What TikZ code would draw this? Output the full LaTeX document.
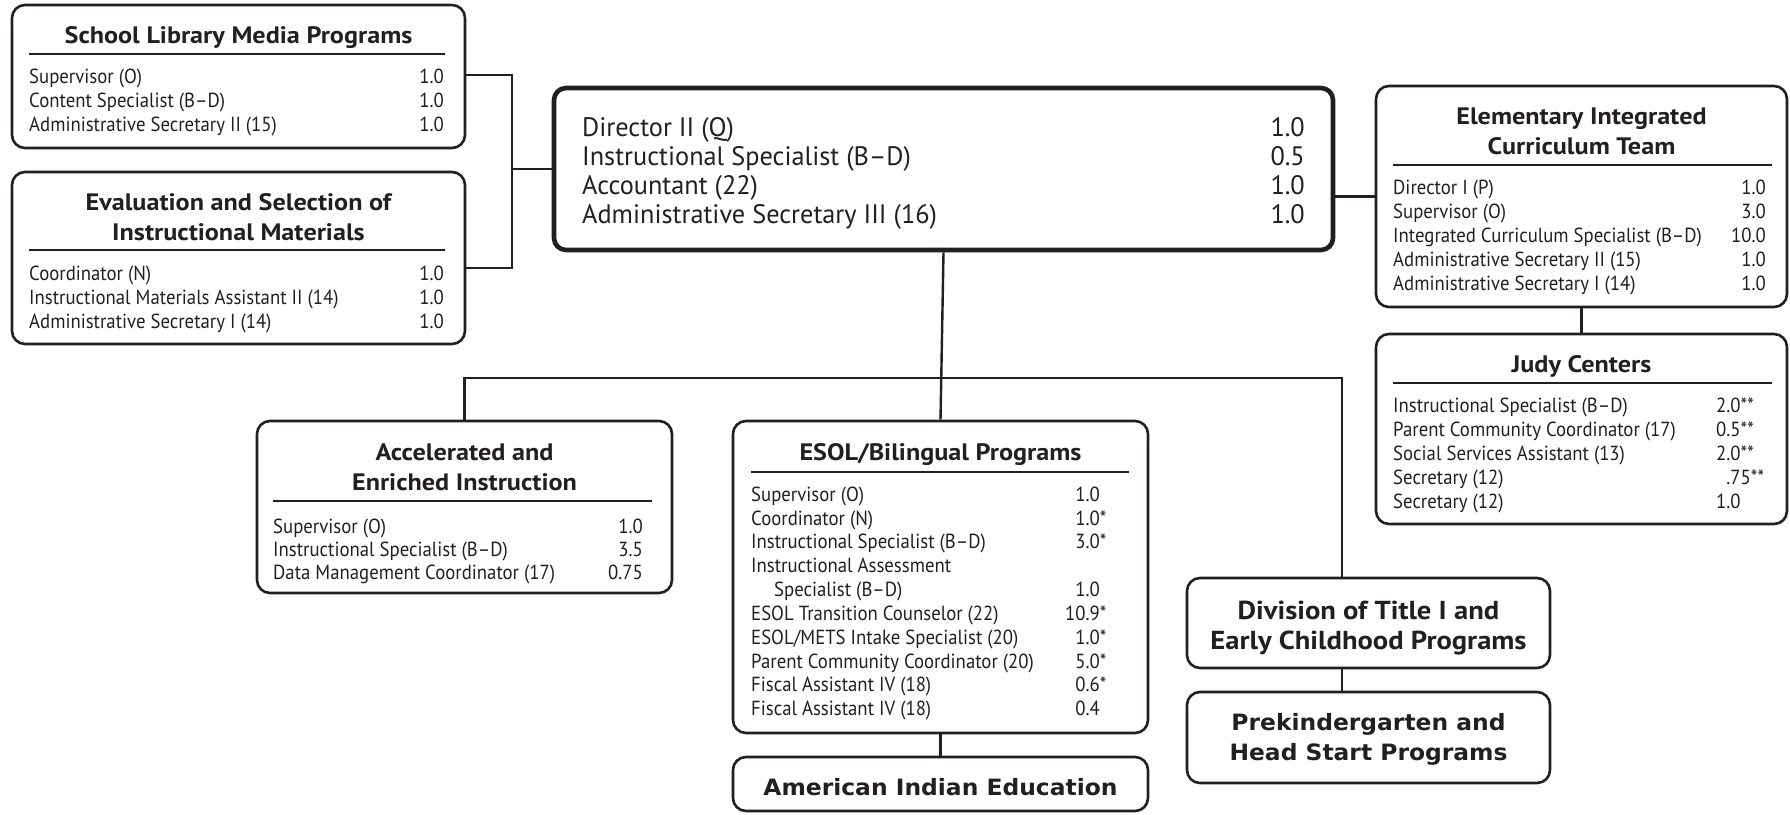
\documentclass[tikz,border=0pt]{standalone}
\usepackage{fontspec}
\setmainfont{PT Sans}
\newfontfamily\rowfont{PT Sans}[FakeStretch=0.92]
\newfontfamily\mainrowfont{PT Sans}[FakeStretch=0.985]
\newfontfamily\headfont{PT Sans}[FakeStretch=1.1]
\newfontfamily\blackfont{DejaVu Sans}[FakeStretch=1.04]
\definecolor{ink}{RGB}{35,31,32}

% one staff line: name, left x, right x, baseline y, title, FTE
\newcommand\entry[6]{%
  \node[row] (#1) at (#2,#4) {#5};
  \node[num] (#1n) at (#3,#4) {#6};}

\tikzset{
  unitbox/.style={draw=ink, line width=2.6pt, rounded corners=13pt, inner sep=0pt, fill=white},
  mainbox/.style={draw=ink, line width=4.6pt, rounded corners=12pt, inner sep=0pt, fill=white},
  link/.style={draw=ink, line width=2.4pt},
  rule/.style={draw=ink, line width=1.1pt},
  txt/.style={inner sep=0pt, text=ink, font=\rowfont\fontsize{20.4}{24}\selectfont},
  row/.style={txt, anchor=base west},
  num/.style={txt, anchor=base east},
  head/.style={inner sep=0pt, text=ink, align=center, font=\headfont\bfseries\fontsize{23.8}{30}\selectfont},
  bighead/.style={head, font=\headfont\bfseries\fontsize{26}{30}\selectfont},
  blackhead/.style={inner sep=0pt, text=ink, align=center, font=\blackfont\bfseries\fontsize{22.5}{30}\selectfont},
}

\begin{document}
\begin{tikzpicture}[x=1pt, y=-1pt]
\fill[white] (0,0) rectangle (1790,814);
\useasboundingbox (0,0) rectangle (1790,814);

% ---------- boxes ----------
\node[unitbox, minimum width=453pt, minimum height=143pt] (slm) at (238.5,76.5) {};
\node[unitbox, minimum width=453pt, minimum height=172pt] (esim) at (238.5,258) {};
\node[mainbox, minimum width=779pt, minimum height=162pt] (main) at (943.5,169) {};
\node[unitbox, minimum width=411pt, minimum height=221pt] (eict) at (1581.5,196.5) {};
\node[unitbox, minimum width=411pt, minimum height=190pt] (judy) at (1581.5,429) {};
\node[unitbox, minimum width=415pt, minimum height=172pt] (aei) at (464.5,507) {};
\node[unitbox, minimum width=415pt, minimum height=312pt] (esol) at (940.5,577) {};
\node[unitbox, minimum width=415pt, minimum height=54pt] (aie) at (940.5,784) {};
\node[unitbox, minimum width=363pt, minimum height=90pt] (div) at (1368.5,623) {};
\node[unitbox, minimum width=363pt, minimum height=91pt] (prek) at (1368.5,737.5) {};

% ---------- connectors ----------
\coordinate (sj) at (512,75);
\coordinate (ej) at (512,268);
\coordinate (bl) at (463,378);
\coordinate (br) at (1342,378);
\draw[link] (slm.east |- sj) -- (sj) -- (ej) -- (esim.east |- ej);
\draw[link] (sj |- main.west) -- (main.west);
\draw[link] (main.east |- eict.west) -- (eict.west);
\draw[link] (eict.south) -- (judy.north);
\draw[link] (main.south) -- (esol.north);
\draw[link] (aei.north) -- (aei.north |- bl) -- (br) -- (div.north -| br);
\draw[link] (esol.south) -- (aie.north);
\draw[link] (div.south -| br) -- (prek.north -| br);

% ---------- School Library Media Programs ----------
\node[head, anchor=base] (slm-t) at (238.5,43) {School Library Media Programs};
\draw[rule] (29,54) -- (445,54);
\entry{slm-1}{29}{444}{83}{Supervisor (O)}{1.0}
\entry{slm-2}{29}{444}{107}{Content Specialist (B–D)}{1.0}
\entry{slm-3}{29}{444}{131}{Administrative Secretary II (15)}{1.0}

% ---------- Evaluation and Selection ----------
\node[head] (esim-t) at (238.5,217) {Evaluation and Selection of\\Instructional Materials};
\draw[rule] (29,250) -- (445,250);
\entry{esim-1}{29}{444}{280}{Coordinator (N)}{1.0}
\entry{esim-2}{29}{444}{304}{Instructional Materials Assistant II (14)}{1.0}
\entry{esim-3}{29}{444}{328}{Administrative Secretary I (14)}{1.0}

% ---------- Director's office ----------
\begin{scope}[txt/.style={inner sep=0pt, text=ink, font=\mainrowfont\fontsize{26.7}{29}\selectfont}]
\entry{main-1}{582}{1305}{136}{Director II (Q)}{1.0}
\entry{main-2}{582}{1305}{165}{Instructional Specialist (B–D)}{0.5}
\entry{main-3}{582}{1305}{194}{Accountant (22)}{1.0}
\entry{main-4}{582}{1305}{223}{Administrative Secretary III (16)}{1.0}
\end{scope}

% ---------- Elementary Integrated Curriculum Team ----------
\node[head] (eict-t) at (1581.5,131) {Elementary Integrated\\Curriculum Team};
\draw[rule] (1393,165) -- (1772,165);
\entry{eict-1}{1393}{1766}{194}{Director I (P)}{1.0}
\entry{eict-2}{1393}{1766}{218}{Supervisor (O)}{3.0}
\entry{eict-3}{1393}{1766}{242}{Integrated Curriculum Specialist (B–D)}{10.0}
\entry{eict-4}{1393}{1766}{266}{Administrative Secretary II (15)}{1.0}
\entry{eict-5}{1393}{1766}{290}{Administrative Secretary I (14)}{1.0}

% ---------- Judy Centers ----------
\node[head, anchor=base] (judy-t) at (1581.5,372) {Judy Centers};
\draw[rule] (1393,383) -- (1772,383);
\begin{scope}[num/.style={txt, anchor=base west}]
\entry{judy-1}{1393}{1716}{412}{Instructional Specialist (B–D)}{2.0**}
\entry{judy-2}{1393}{1716}{436}{Parent Community Coordinator (17)}{0.5**}
\entry{judy-3}{1393}{1716}{460}{Social Services Assistant (13)}{2.0**}
\entry{judy-4}{1393}{1716}{484}{Secretary (12)}{\phantom{2}.75**}
\entry{judy-5}{1393}{1716}{508}{Secretary (12)}{1.0}
\end{scope}

% ---------- Accelerated and Enriched Instruction ----------
\node[head] (aei-t) at (464.5,467) {Accelerated and\\Enriched Instruction};
\draw[rule] (273,501) -- (652,501);
\entry{aei-1}{273}{643}{533}{Supervisor (O)}{1.0}
\entry{aei-2}{273}{643}{556}{Instructional Specialist (B–D)}{3.5}
\entry{aei-3}{273}{643}{579}{Data Management Coordinator (17)}{0.75}

% ---------- ESOL/Bilingual Programs ----------
\node[head, anchor=base] (esol-t) at (940.5,460) {ESOL/Bilingual Programs};
\draw[rule] (751,472) -- (1129,472);
\entry{esol-1}{751}{1100}{501}{Supervisor (O)}{1.0}
\entry{esol-2}{751}{1100}{525}{Coordinator (N)}{1.0\rlap{*}}
\entry{esol-3}{751}{1100}{548.5}{Instructional Specialist (B–D)}{3.0\rlap{*}}
\node[row] (esol-4) at (751,572.5) {Instructional Assessment};
\entry{esol-5}{774}{1100}{596}{Specialist (B–D)}{1.0}
\entry{esol-6}{751}{1100}{620}{ESOL Transition Counselor (22)}{10.9\rlap{*}}
\entry{esol-7}{751}{1100}{644}{ESOL/METS Intake Specialist (20)}{1.0\rlap{*}}
\entry{esol-8}{751}{1100}{668}{Parent Community Coordinator (20)}{5.0\rlap{*}}
\entry{esol-9}{751}{1100}{691.5}{Fiscal Assistant IV (18)}{0.6\rlap{*}}
\entry{esol-10}{751}{1100}{715}{Fiscal Assistant IV (18)}{0.4}

% ---------- single-title units ----------
\node[blackhead, anchor=base] (aie-t) at (940.5,795) {American Indian Education};
\node[bighead] (div-t) at (1368.5,628) {Division of Title I and\\Early Childhood Programs};
\node[blackhead] (prek-t) at (1368.5,739) {Prekindergarten and\\Head Start Programs};
\end{tikzpicture}
\end{document}
